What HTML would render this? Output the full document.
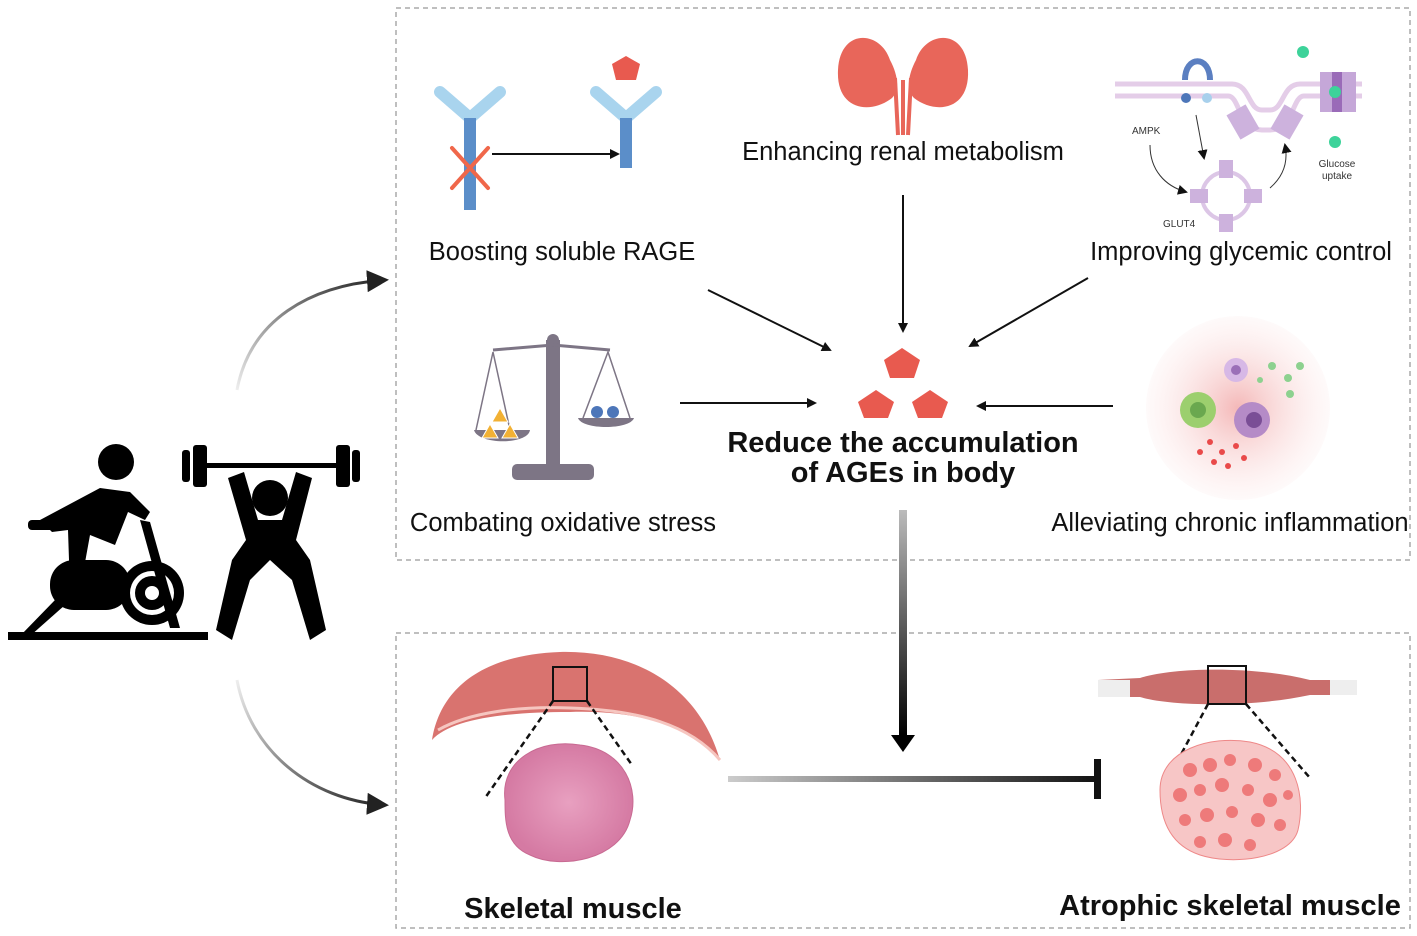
<!DOCTYPE html>
<html><head><meta charset="utf-8"><style>
html,body{margin:0;padding:0;background:#fff}
svg{display:block}
text{font-family:"Liberation Sans",Arial,sans-serif}
</style></head><body>
<svg width="1417" height="936" viewBox="0 0 1417 936" xmlns="http://www.w3.org/2000/svg">
<defs>
<linearGradient id="gv" x1="0" y1="0" x2="0" y2="1"><stop offset="0" stop-color="#bbb"/><stop offset="1" stop-color="#000"/></linearGradient>
<linearGradient id="gh" x1="0" y1="0" x2="1" y2="0"><stop offset="0" stop-color="#ccc"/><stop offset="1" stop-color="#111"/></linearGradient>
<linearGradient id="gc1" x1="0" y1="1" x2="1" y2="0"><stop offset="0" stop-color="#eee"/><stop offset="1" stop-color="#222"/></linearGradient>
<linearGradient id="gc2" x1="0" y1="0" x2="1" y2="1"><stop offset="0" stop-color="#eee"/><stop offset="1" stop-color="#222"/></linearGradient>
<radialGradient id="inf"><stop offset="0" stop-color="#f4b8b8"/><stop offset="1" stop-color="#fdeeee" stop-opacity="0.3"/></radialGradient>
<radialGradient id="mus"><stop offset="0" stop-color="#e8a0c0"/><stop offset="1" stop-color="#d57aa3"/></radialGradient>
<marker id="ah" markerWidth="10" markerHeight="10" refX="8" refY="5" orient="auto" markerUnits="userSpaceOnUse"><path d="M0,0 L10,5 L0,10 Z" fill="#111"/></marker>
<marker id="ah2" markerWidth="22" markerHeight="22" refX="18" refY="11" orient="auto" markerUnits="userSpaceOnUse"><path d="M0,0 L22,11 L0,22 Z" fill="#222"/></marker>
</defs>

<rect x="396" y="8" width="1014" height="552" fill="none" stroke="#aaa" stroke-width="1.5" stroke-dasharray="5,4"/>
<rect x="396" y="633" width="1014" height="295" fill="none" stroke="#aaa" stroke-width="1.5" stroke-dasharray="5,4"/>

<g stroke-linecap="round">
<path d="M440,92 L470,118 L500,92" fill="none" stroke="#a9d4ee" stroke-width="12"/>
<rect x="464" y="118" width="12" height="92" fill="#5b8ec9"/>
<path d="M452,148 L488,188 M488,148 L452,188" stroke="#f0674a" stroke-width="4"/>
<path d="M596,92 L626,118 L656,92" fill="none" stroke="#a9d4ee" stroke-width="12"/>
<rect x="620" y="118" width="12" height="50" fill="#5b8ec9"/>
</g>
<path d="M626,56 L640,64 L636,80 L616,80 L612,64 Z" fill="#e85a4f"/>
<line x1="492" y1="154" x2="618" y2="154" stroke="#111" stroke-width="2" marker-end="url(#ah)"/>
<text x="562" y="260" font-size="25.5" text-anchor="middle" fill="#111">Boosting soluble RAGE</text>

<path d="M890,60 C880,30 840,28 838,70 C836,110 870,115 892,98 C900,90 898,75 890,60Z" fill="#e8665a"/>
<path d="M916,60 C926,30 966,28 968,70 C970,110 936,115 914,98 C906,90 908,75 916,60Z" fill="#e8665a"/>
<path d="M895,78 L898,135 M903,80 L903,135 M911,78 L908,135" stroke="#e8665a" stroke-width="4" fill="none"/>
<text x="903" y="160" font-size="25.5" text-anchor="middle" fill="#111">Enhancing renal metabolism</text>

<path d="M1115,84 L1232,84 C1250,84 1248,110 1262,110 L1270,110 C1284,110 1282,84 1300,84 L1362,84 M1115,96 L1228,96 C1240,96 1238,130 1262,130 L1270,130 C1294,130 1292,96 1304,96 L1362,96" stroke="#e4cde8" stroke-width="5" fill="none"/>
<path d="M1185,80 C1185,55 1210,55 1210,80" stroke="#5b7fc1" stroke-width="6" fill="none"/>
<circle cx="1186" cy="98" r="5" fill="#4d76b9"/><circle cx="1207" cy="98" r="5" fill="#a8d0ec"/>
<rect x="1232" y="108" width="22" height="28" fill="#cdb2dd" transform="rotate(-30 1243 122)"/>
<rect x="1276" y="108" width="22" height="28" fill="#cdb2dd" transform="rotate(30 1287 122)"/>
<rect x="1320" y="72" width="36" height="40" fill="#c5a7d8"/><rect x="1332" y="72" width="10" height="40" fill="#9a6bb8"/>
<circle cx="1303" cy="52" r="6" fill="#3dd39a"/><circle cx="1335" cy="92" r="6" fill="#3dd39a"/><circle cx="1335" cy="142" r="6" fill="#3dd39a"/>
<circle cx="1226" cy="196" r="24" fill="none" stroke="#dcc6e6" stroke-width="4"/>
<rect x="1219" y="160" width="14" height="18" fill="#cdb2dd"/><rect x="1219" y="214" width="14" height="18" fill="#cdb2dd"/>
<rect x="1190" y="189" width="18" height="14" fill="#cdb2dd"/><rect x="1244" y="189" width="18" height="14" fill="#cdb2dd"/>
<path d="M1150,145 C1150,170 1165,186 1186,192" stroke="#333" fill="none" stroke-width="1" marker-end="url(#ah)"/>
<path d="M1196,115 L1204,158" stroke="#333" fill="none" stroke-width="1" marker-end="url(#ah)"/>
<path d="M1270,188 C1285,175 1288,160 1285,145" stroke="#333" fill="none" stroke-width="1" marker-end="url(#ah)"/>
<text x="1132" y="134" font-size="10" fill="#333">AMPK</text>
<text x="1163" y="227" font-size="10" fill="#333">GLUT4</text>
<text x="1337" y="167" font-size="10" fill="#333" text-anchor="middle">Glucose</text>
<text x="1337" y="179" font-size="10" fill="#333" text-anchor="middle">uptake</text>
<text x="1241" y="260" font-size="25.5" text-anchor="middle" fill="#111">Improving glycemic control</text>

<g fill="#7d7585">
<rect x="546" y="340" width="14" height="130"/>
<rect x="512" y="464" width="82" height="16" rx="5"/>
<circle cx="553" cy="340" r="6"/>
<path d="M493,350 L553,345 L610,350" stroke="#7d7585" stroke-width="3" fill="none"/>
<path d="M476,430 L493,352 L510,430 M583,418 L608,352 L630,418" stroke="#7d7585" stroke-width="1.5" fill="none"/>
<path d="M474,430 L530,430 C528,445 478,445 474,430Z"/>
<path d="M578,418 L634,418 C630,430 582,430 578,418Z"/>
</g>
<path d="M500,408 L508,422 L492,422Z M490,424 L498,438 L482,438Z M510,424 L518,438 L502,438Z" fill="#f2b134" stroke="#fff"/>
<circle cx="597" cy="412" r="6" fill="#4d76b9"/><circle cx="613" cy="412" r="6" fill="#4d76b9"/>
<text x="563" y="531" font-size="25.5" text-anchor="middle" fill="#111">Combating oxidative stress</text>

<circle cx="1238" cy="408" r="92" fill="url(#inf)"/>
<circle cx="1198" cy="410" r="18" fill="#9ccf6e"/><circle cx="1198" cy="410" r="8" fill="#6aa84f"/>
<circle cx="1252" cy="420" r="18" fill="#b58bc7"/><circle cx="1254" cy="420" r="8" fill="#7a4e96"/>
<circle cx="1236" cy="370" r="12" fill="#d7b8e6"/><circle cx="1236" cy="370" r="5" fill="#9b6fb8"/>
<g fill="#8dd18f"><circle cx="1272" cy="366" r="4"/><circle cx="1288" cy="378" r="4"/><circle cx="1300" cy="366" r="4"/><circle cx="1290" cy="394" r="4"/><circle cx="1260" cy="380" r="3"/></g>
<g fill="#e94a4a"><circle cx="1210" cy="442" r="3"/><circle cx="1222" cy="452" r="3"/><circle cx="1236" cy="446" r="3"/><circle cx="1214" cy="462" r="3"/><circle cx="1228" cy="466" r="3"/><circle cx="1244" cy="458" r="3"/><circle cx="1200" cy="452" r="3"/></g>
<text x="1230" y="531" font-size="25.5" text-anchor="middle" fill="#111">Alleviating chronic inflammation</text>

<g fill="#e85a4f">
<path d="M902,348 L920,360 L914,378 L890,378 L884,360Z"/>
<path d="M876,390 L894,402 L888,418 L864,418 L858,402Z"/>
<path d="M930,390 L948,402 L942,418 L918,418 L912,402Z"/>
</g>
<text x="903" y="452" font-size="29" font-weight="bold" text-anchor="middle" fill="#111">Reduce the accumulation</text>
<text x="903" y="482" font-size="29" font-weight="bold" text-anchor="middle" fill="#111">of AGEs in body</text>

<g stroke="#111" stroke-width="2" fill="none">
<line x1="708" y1="290" x2="830" y2="350" marker-end="url(#ah)"/>
<line x1="903" y1="195" x2="903" y2="331" marker-end="url(#ah)"/>
<line x1="1088" y1="278" x2="970" y2="346" marker-end="url(#ah)"/>
<line x1="680" y1="403" x2="815" y2="403" marker-end="url(#ah)"/>
<line x1="1113" y1="406" x2="978" y2="406" marker-end="url(#ah)"/>
</g>
<rect x="899" y="510" width="8" height="225" fill="url(#gv)"/>
<path d="M891,735 L915,735 L903,752Z" fill="#000"/>
<rect x="728" y="776" width="370" height="6" fill="url(#gh)"/>
<rect x="1094" y="759" width="7" height="40" fill="#111"/>

<path d="M237,390 C250,320 310,285 385,280" stroke="url(#gc1)" stroke-width="3" fill="none" marker-end="url(#ah2)"/>
<path d="M237,680 C250,750 310,800 385,805" stroke="url(#gc2)" stroke-width="3" fill="none" marker-end="url(#ah2)"/>

<g fill="#000">
<circle cx="116" cy="462" r="18"/>
<path d="M40,520 L100,488 L130,492 L150,512 L145,520 L128,512 L115,545 L90,535 L80,590 L70,590 L68,530 L52,532Z"/>
<rect x="28" y="520" width="28" height="10" rx="4"/>
<rect x="50" y="560" width="80" height="50" rx="24"/>
<circle cx="152" cy="593" r="32"/><circle cx="152" cy="593" r="22" fill="#fff"/><circle cx="152" cy="593" r="17"/><circle cx="152" cy="593" r="7" fill="#fff"/>
<path d="M140,520 L150,522 L180,628 L170,628Z"/>
<path d="M55,600 L65,605 L30,636 L20,636Z"/>
<rect x="8" y="632" width="200" height="8"/>
<rect x="182" y="450" width="8" height="32" rx="3"/><rect x="193" y="445" width="14" height="42" rx="3"/>
<rect x="205" y="463" width="133" height="5"/>
<rect x="336" y="445" width="14" height="42" rx="3"/><rect x="352" y="450" width="8" height="32" rx="3"/>
<circle cx="270" cy="498" r="18"/>
<path d="M228,478 L244,472 L258,520 L282,520 L296,472 L312,478 L296,540 L310,560 L326,630 L310,640 L292,580 L270,560 L250,580 L232,640 L216,630 L232,560 L246,540Z"/>
</g>

<path d="M432,740 C440,690 480,655 560,652 C640,650 700,690 720,760 C690,720 620,710 570,712 C500,712 450,720 432,740Z" fill="#d9736f"/>
<path d="M438,730 C470,712 520,706 570,708 C640,710 690,725 720,760" stroke="#f6c6c0" stroke-width="3" fill="none"/>
<rect x="553" y="667" width="34" height="34" fill="none" stroke="#111" stroke-width="2"/>
<path d="M553,701 L485,798 M587,701 L632,765" stroke="#111" stroke-width="2.5" stroke-dasharray="6,4"/>
<path d="M505,800 C500,760 540,738 580,745 C625,750 640,790 630,820 C620,860 560,870 530,855 C505,845 505,820 505,800Z" fill="url(#mus)" stroke="#c86a92" stroke-width="1"/>
<text x="573" y="918" font-size="29" font-weight="bold" text-anchor="middle" fill="#111">Skeletal muscle</text>

<path d="M1098,680 L1140,678 C1170,668 1250,665 1310,680 L1357,680 L1357,695 L1310,695 C1250,708 1170,706 1140,697 L1098,697Z" fill="#c96e6c"/>
<path d="M1098,680 L1130,680 L1130,697 L1098,697Z M1330,680 L1357,680 L1357,695 L1330,695Z" fill="#eee"/>
<rect x="1208" y="666" width="38" height="38" fill="none" stroke="#111" stroke-width="2"/>
<path d="M1208,704 L1162,790 M1246,704 L1310,778" stroke="#111" stroke-width="2.5" stroke-dasharray="6,4"/>
<path d="M1160,790 C1160,750 1210,735 1250,742 C1300,752 1305,800 1298,830 C1290,860 1230,865 1200,855 C1170,845 1160,820 1160,790Z" fill="#f7c6c6" stroke="#e88" stroke-width="1"/>
<g fill="#ee7a7a">
<circle cx="1190" cy="770" r="7"/><circle cx="1210" cy="765" r="7"/><circle cx="1230" cy="760" r="6"/><circle cx="1255" cy="765" r="7"/><circle cx="1275" cy="775" r="6"/>
<circle cx="1180" cy="795" r="7"/><circle cx="1200" cy="790" r="6"/><circle cx="1222" cy="785" r="7"/><circle cx="1248" cy="790" r="6"/><circle cx="1270" cy="800" r="7"/><circle cx="1288" cy="795" r="5"/>
<circle cx="1185" cy="820" r="6"/><circle cx="1207" cy="815" r="7"/><circle cx="1232" cy="812" r="6"/><circle cx="1258" cy="820" r="7"/><circle cx="1280" cy="825" r="6"/>
<circle cx="1200" cy="842" r="6"/><circle cx="1225" cy="840" r="7"/><circle cx="1250" cy="845" r="6"/>
</g>
<text x="1230" y="915" font-size="29" font-weight="bold" text-anchor="middle" fill="#111">Atrophic skeletal muscle</text>
</svg>
</body></html>
